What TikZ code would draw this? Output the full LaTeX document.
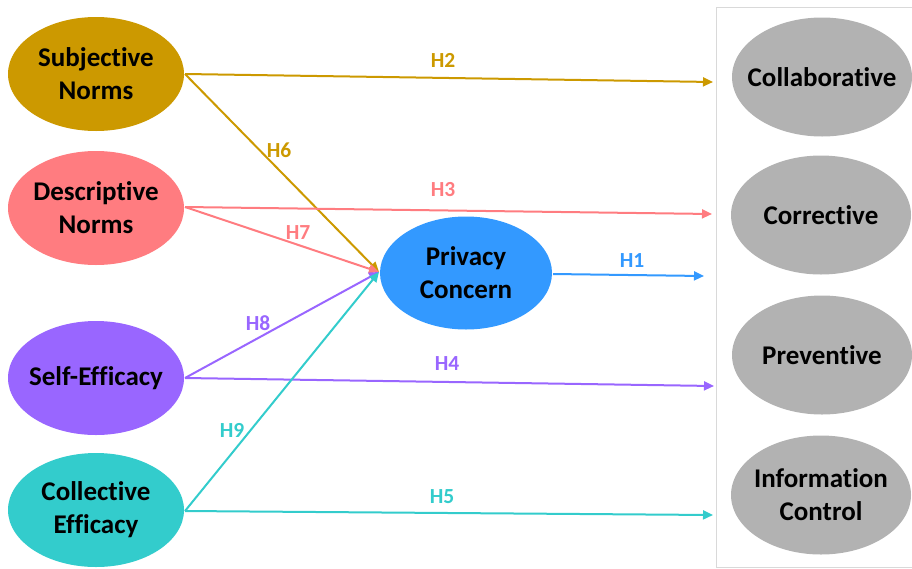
\documentclass[tikz,border=0pt]{standalone}
\usepackage{fontspec}
\setmainfont[Ligatures={NoCommon}]{Carlito}
\usetikzlibrary{shapes.geometric,arrows.meta}
\definecolor{cGold}{HTML}{CC9900}
\definecolor{cPink}{HTML}{FF7C80}
\definecolor{cPurple}{HTML}{9966FF}
\definecolor{cTeal}{HTML}{33CCCC}
\definecolor{cBlue}{HTML}{3399FF}
\definecolor{cGray}{HTML}{B2B2B2}
\definecolor{cBox}{HTML}{D9D9D9}
\tikzset{
  construct/.style={ellipse, inner sep=0pt, minimum width=176pt, minimum height=114pt},
  outcome/.style={construct, fill=cGray, minimum width=180pt, minimum height=119pt},
  txt/.style={align=center, inner sep=0pt, font=\fontsize{27}{33}\selectfont\bfseries, text=black},
  link/.style={line width=2pt, -{Triangle[length=10pt,width=9pt]}},
  hyp/.style={font=\fontsize{21.5}{23}\selectfont\bfseries, inner sep=0pt},
}
\begin{document}
\begin{tikzpicture}[x=1pt,y=-1pt]
\useasboundingbox (0,0) rectangle (912,568);
\draw[cBox, line width=1pt] (716,567) -- (716,7) -- (913,7);
\draw[cBox, line width=1pt] (716,567) -- (913,567);

\node[construct, fill=cGold] (sn) at (96,74) {};
\node[construct, fill=cPink] (dn) at (96,208) {};
\node[construct, fill=cPurple] (se) at (96,378) {};
\node[construct, fill=cTeal] (ce) at (96,510) {};
\node[construct, fill=cBlue, minimum width=172pt, minimum height=113pt] (pc) at (466,273) {};
\node[outcome] (co) at (822,77) {};
\node[outcome] (cr) at (821,215) {};
\node[outcome] (pr) at (822,355) {};
\node[outcome] (ic) at (821,495) {};

\node[txt] (snT) at (sn) {Subjective\\Norms};
\node[txt] (dnT) at (dn) {Descriptive\\Norms};
\node[txt] (seT) at (se) {Self-Efficacy};
\node[txt] (ceT) at (ce) {Collective\\Efficacy};
\node[txt] (pcT) at (pc) {Privacy\\Concern};
\node[txt] (coT) at (co) {Collaborative};
\node[txt] (crT) at (cr) {Corrective};
\node[txt] (prT) at (pr) {Preventive};
\node[txt] (icT) at (ic) {Information\\Control};

\coordinate (snR) at (185,74);
\coordinate (dnR) at (185,207);
\coordinate (seR) at (185,378);
\coordinate (ceR) at (185,511);
\coordinate (pcL) at (379,272);
\coordinate (pcR) at (553,274);
\coordinate (t2) at (713,82);
\coordinate (t3) at (712,214);
\coordinate (t1) at (704,276);
\coordinate (t4) at (714,386);
\coordinate (t5) at (713,515);

\draw[link, cGold] (snR) -- (t2);
\draw[link, cGold] (snR) -- (pcL);
\draw[link, cPink] (dnR) -- (t3);
\draw[link, cPink] (dnR) -- (pcL);
\draw[link, cPurple] (seR) -- (t4);
\draw[link, cPurple] (seR) -- (pcL);
\draw[link, cTeal] (ceR) -- (t5);
\draw[link, cTeal] (ceR) -- (pcL);
\draw[link, cBlue] (pcR) -- (t1);

\node[hyp, text=cGold] (h2) at (443,60) {H2};
\node[hyp, text=cGold] (h6) at (279,150) {H6};
\node[hyp, text=cPink] (h3) at (443,190) {H3};
\node[hyp, text=cPink] (h7) at (298,233) {H7};
\node[hyp, text=cBlue] (h1) at (632,261) {H1};
\node[hyp, text=cPurple] (h8) at (258,323) {H8};
\node[hyp, text=cPurple] (h4) at (447,364) {H4};
\node[hyp, text=cTeal] (h9) at (232,430) {H9};
\node[hyp, text=cTeal] (h5) at (442,497) {H5};
\end{tikzpicture}
\end{document}
